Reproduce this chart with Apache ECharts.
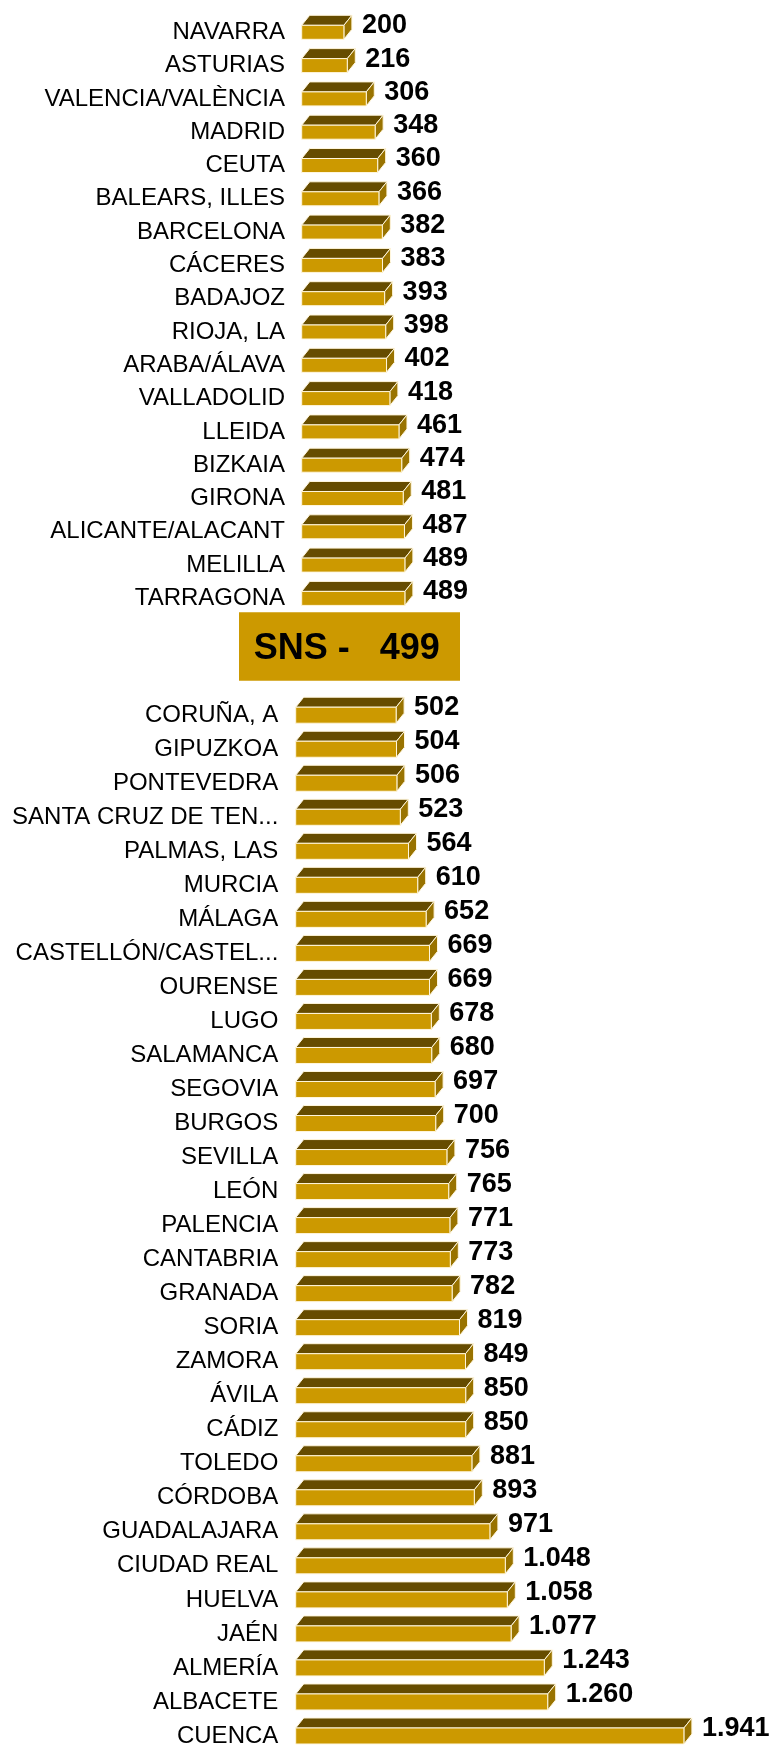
<!DOCTYPE html>
<html>
<head>
<meta charset="utf-8">
<script src="https://cdn.jsdelivr.net/npm/echarts@6/dist/echarts.min.js"></script>
<style>
html,body{margin:0;padding:0;background:#fff;}
#chart{width:779px;height:1753px;}
</style>
</head>
<body>
<div id="chart"></div>
<script>
const topCategories = ['NAVARRA','ASTURIAS','VALENCIA/VALÈNCIA','MADRID','CEUTA','BALEARS, ILLES','BARCELONA','CÁCERES','BADAJOZ','RIOJA, LA','ARABA/ÁLAVA','VALLADOLID','LLEIDA','BIZKAIA','GIRONA','ALICANTE/ALACANT','MELILLA','TARRAGONA'];
const topValues = [200,216,306,348,360,366,382,383,393,398,402,418,461,474,481,487,489,489];
const bottomCategories = ['CORUÑA, A','GIPUZKOA','PONTEVEDRA','SANTA CRUZ DE TEN...','PALMAS, LAS','MURCIA','MÁLAGA','CASTELLÓN/CASTEL...','OURENSE','LUGO','SALAMANCA','SEGOVIA','BURGOS','SEVILLA','LEÓN','PALENCIA','CANTABRIA','GRANADA','SORIA','ZAMORA','ÁVILA','CÁDIZ','TOLEDO','CÓRDOBA','GUADALAJARA','CIUDAD REAL','HUELVA','JAÉN','ALMERÍA','ALBACETE','CUENCA'];
const bottomValues = [502,504,506,523,564,610,652,669,669,678,680,697,700,756,765,771,773,782,819,849,850,850,881,893,971,1048,1058,1077,1243,1260,1941];
const snsLabel = 'SNS';
const snsValue = 499;

function fmt(v){
  const s = String(Math.round(v));
  return s.replace(/\B(?=(\d{3})+(?!\d))/g, '.');
}

const FONT = '"Liberation Sans", Arial, Helvetica, sans-serif';
const FRONT = '#CC9900', TOPC = '#664C00', SIDE = '#997300', EDGE = '#FFF6DC';

function makeRender(frontH){
  const dx = 8, dy = 10;
  return function(params, api){
    const v = api.value(0), idx = api.value(1);
    const p0 = api.coord([0, idx]);
    const p1 = api.coord([v, idx]);
    const x0 = p0[0], x1 = p1[0];
    const yT = p1[1] - frontH/2, yB = p1[1] + frontH/2;
    const style = {lineWidth: 1, stroke: EDGE};
    return {
      type: 'group',
      children: [
        {type:'polygon', shape:{points:[[x0,yT],[x0+dx,yT-dy],[x1+dx,yT-dy],[x1,yT]]}, style: Object.assign({fill: TOPC}, style)},
        {type:'polygon', shape:{points:[[x1,yT],[x1+dx,yT-dy],[x1+dx,yB-dy],[x1,yB]]}, style: Object.assign({fill: SIDE}, style)},
        {type:'rect', shape:{x:x0, y:yT, width:x1-x0, height:frontH}, style: Object.assign({fill: FRONT}, style)},
        {type:'text', x: x1 + 18, y: yT + 0.5, style:{text: fmt(v), fill:'#000', font:'bold 27px ' + FONT, align:'left', verticalAlign:'middle', textAlign:'left', textVerticalAlign:'middle'}}
      ]
    };
  };
}

const chart = echarts.init(document.getElementById('chart'), null, {renderer:'canvas'});
const catAxisCommon = {
  type: 'category', inverse: true,
  axisLine:{show:false}, axisTick:{show:false}, splitLine:{show:false},
  axisLabel:{fontSize:24, color:'#000', fontFamily: FONT, padding:[4,0,0,0]}
};
const valAxisCommon = {type:'value', min:0, max:2000, show:false, splitLine:{show:false}};

chart.setOption({
  animation: false,
  backgroundColor: '#fff',
  grid: [
    {left: 301.7, top: 15.65, width: 422, height: 599.4},
    {left: 295.7, top: 698.2, width: 400, height: 1060.2}
  ],
  xAxis: [
    Object.assign({gridIndex:0}, valAxisCommon),
    Object.assign({gridIndex:1}, valAxisCommon)
  ],
  yAxis: [
    Object.assign({gridIndex:0, data: topCategories}, catAxisCommon, {axisLabel: Object.assign({}, catAxisCommon.axisLabel, {margin:16.7})}),
    Object.assign({gridIndex:1, data: bottomCategories}, catAxisCommon, {axisLabel: Object.assign({}, catAxisCommon.axisLabel, {margin:17.4})})
  ],
  graphic: [
    {type:'rect', left:239, top:612.3, shape:{width:221, height:68.4}, style:{fill: FRONT}},
    {type:'text', x:346.7, y:649.5, style:{text: snsLabel + ' -   ' + snsValue, fill:'#000', font:'bold 36px ' + FONT, align:'center', verticalAlign:'middle', textAlign:'center', textVerticalAlign:'middle'}}
  ],
  series: [
    {type:'custom', xAxisIndex:0, yAxisIndex:0, clip:false, renderItem: makeRender(14),
     encode:{x:0, y:1}, data: topValues.map((v,i)=>[v,i])},
    {type:'custom', xAxisIndex:1, yAxisIndex:1, clip:false, renderItem: makeRender(16),
     encode:{x:0, y:1}, data: bottomValues.map((v,i)=>[v,i])}
  ]
});
</script>
</body>
</html>
